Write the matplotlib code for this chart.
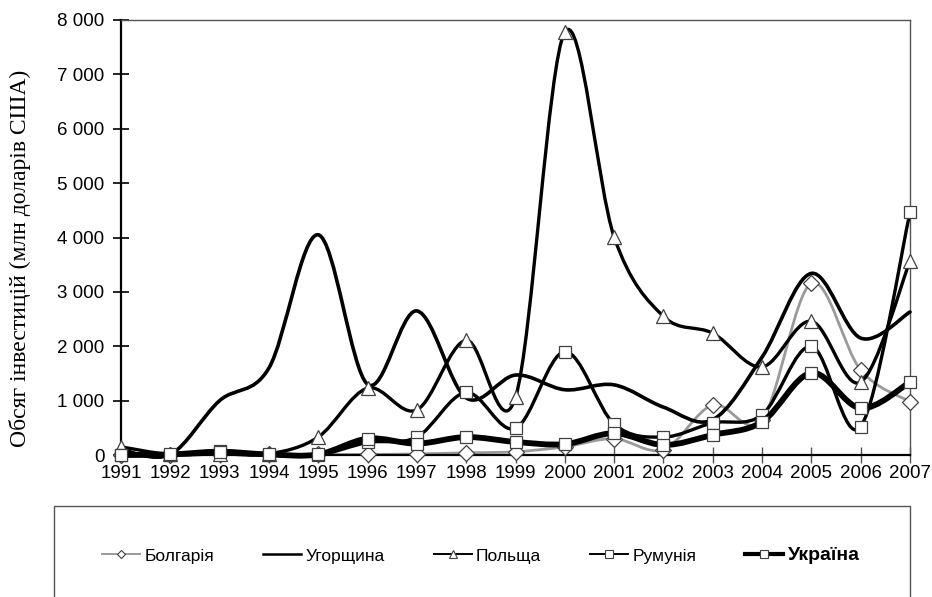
import numpy as np
import matplotlib.pyplot as plt
from matplotlib.path import Path
from matplotlib.patches import PathPatch, Rectangle
from matplotlib.lines import Line2D
from matplotlib.ticker import FuncFormatter, MultipleLocator

# Data, млн доларів США
years = [1991, 1992, 1993, 1994, 1995, 1996, 1997, 1998, 1999,
         2000, 2001, 2002, 2003, 2004, 2005, 2006, 2007]
bulgaria = [0, 0, 10, 10, 10, 10, 20, 40, 60, 150, 300, 100, 920, 650, 3160, 1560, 980]
hungary = [100, 10, 1000, 1600, 4050, 1300, 2650, 1050, 1470, 1200, 1290, 880, 650, 1800, 3340, 2150, 2630]
poland = [150, 10, 20, 20, 330, 1230, 830, 2110, 1060, 7780, 4010, 2550, 2240, 1620, 2460, 1340, 3570]
romania = [0, 0, 80, 0, 0, 230, 330, 1150, 490, 1900, 570, 330, 590, 740, 2000, 520, 4460]
ukraine = [0, 10, 60, 10, 10, 300, 210, 330, 240, 200, 400, 185, 370, 610, 1510, 860, 1340]

labels = ["Болгарія", "Угорщина", "Польща", "Румунія", "Україна"]


def smooth_path(x, y):
    # Excel-like smoothed line: cubic Bezier through every data point
    pts = np.column_stack([x, y]).astype(float)
    ext = np.vstack([pts[0], pts, pts[-1]])
    verts = [pts[0]]
    codes = [Path.MOVETO]
    for i in range(len(pts) - 1):
        p0, p1, p2, p3 = ext[i], ext[i + 1], ext[i + 2], ext[i + 3]
        verts += [p1 + (p2 - p0) / 6, p2 - (p3 - p1) / 6, p2]
        codes += [Path.CURVE4] * 3
    return Path(verts, codes)


plt.rcParams['font.family'] = ['Liberation Sans', 'DejaVu Sans']

fig = plt.figure(figsize=(9.32, 5.97), dpi=100)
ax = fig.add_axes([121 / 932, 1 - 455 / 597, (910 - 121) / 932, (455 - 20) / 597])

edge = "#404040"
styles = [
    (bulgaria, "#9a9a9a", 2.0, "D", 8.0),
    (hungary, "black", 2.6, None, 0),
    (poland, "black", 2.4, "^", 10.5),
    (romania, "black", 2.4, "s", 9.0),
    (ukraine, "black", 4.2, "s", 9.0),
]

for z, (vals, col, lw, mk, ms) in enumerate(styles):
    ax.add_patch(PathPatch(smooth_path(years, vals), fill=False, edgecolor=col,
                           lw=lw, capstyle='round', joinstyle='round',
                           zorder=2 + z * 2, clip_on=False))
    if mk:
        ax.plot(years, vals, linestyle='none', marker=mk, ms=ms, mfc='white',
                mec=edge, mew=0.9, zorder=3 + z * 2, clip_on=False)

ax.set_xlim(1991, 2007)
ax.set_ylim(0, 8000)
ax.set_xticks(years)
ax.yaxis.set_major_locator(MultipleLocator(1000))
ax.yaxis.set_major_formatter(FuncFormatter(lambda v, p: f"{int(v):,}".replace(",", " ")))

for s in ['left', 'bottom']:
    ax.spines[s].set_linewidth(1.6)
    ax.spines[s].set_color('black')
for s in ['top', 'right']:
    ax.spines[s].set_linewidth(1.0)
    ax.spines[s].set_color('#555555')

ax.tick_params(axis='y', direction='inout', length=12, width=1.2, pad=6, labelsize=13.5)
ax.tick_params(axis='x', direction='inout', length=12, width=1.0, color='#555555',
               pad=1, labelsize=13.5)

fig.text(20 / 932, 1 - 258 / 597, "Обсяг інвестицій (млн доларів США)",
         rotation=90, ha='center', va='center', fontsize=17,
         family=['Liberation Serif', 'DejaVu Serif'])

# legend box below the chart
fig.patches.append(Rectangle((54 / 932, -0.05), (910 - 54) / 932, 1 - 506 / 597 + 0.05,
                             transform=fig.transFigure, fill=False,
                             edgecolor='#555555', lw=1.0))

handles = [
    Line2D([], [], color="#9a9a9a", lw=1.4, marker="D", ms=4.5, mfc='white', mec=edge, mew=0.8),
    Line2D([], [], color="black", lw=1.8),
    Line2D([], [], color="black", lw=1.4, marker="^", ms=6, mfc='white', mec=edge, mew=0.8),
    Line2D([], [], color="black", lw=1.4, marker="s", ms=5.5, mfc='white', mec=edge, mew=0.8),
    Line2D([], [], color="black", lw=3.0, marker="s", ms=6, mfc='white', mec=edge, mew=0.8),
]
leg = fig.legend(handles, labels, loc='center', bbox_to_anchor=(0.516, 1 - 556 / 597),
                 ncol=5, frameon=False, fontsize=12.5, handlelength=2.2,
                 handletextpad=0.25, columnspacing=2.8)
leg.get_texts()[4].set_fontweight('bold')
leg.get_texts()[4].set_fontsize(14)

fig.savefig("out.png", dpi=100)
